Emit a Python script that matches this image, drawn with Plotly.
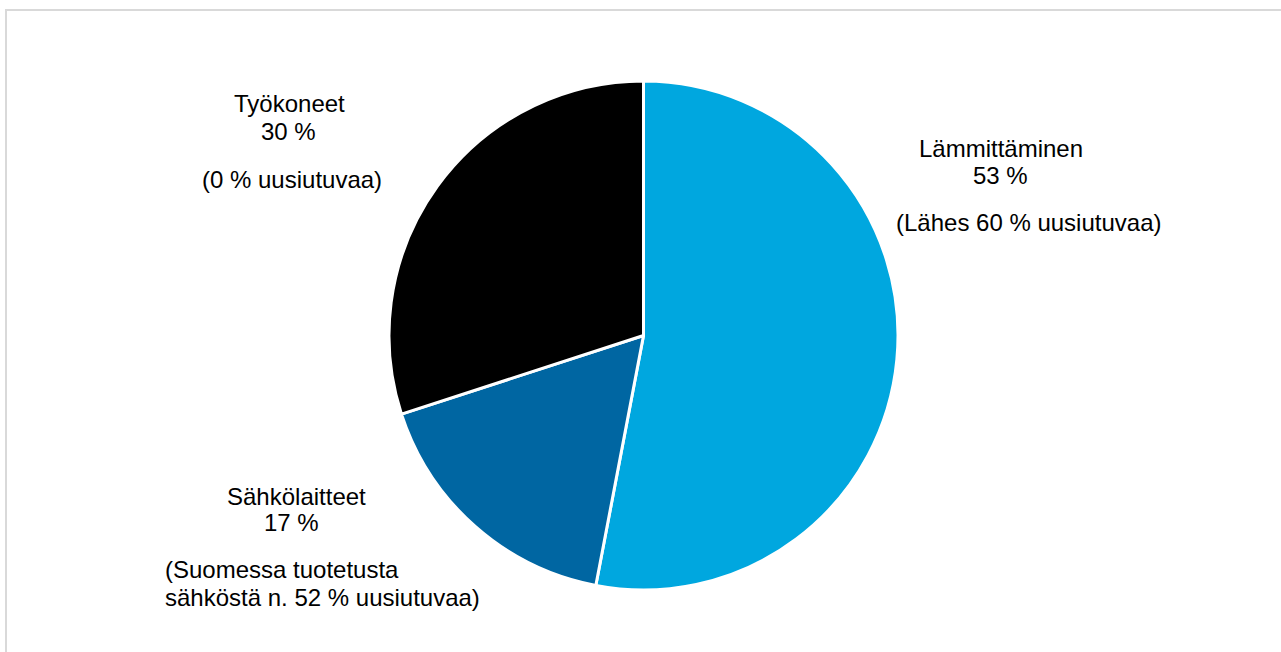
import plotly.graph_objects as go

# Energy use by purpose, share of total
categories = ["Lämmittäminen", "Sähkölaitteet", "Työkoneet"]
shares = [53, 17, 30]
notes = [
    ["(Lähes 60 % uusiutuvaa)"],
    ["(Suomessa tuotetusta", "sähköstä n. 52 % uusiutuvaa)"],
    ["(0 % uusiutuvaa)"],
]
colors = ["#00A7DF", "#0066A2", "#000000"]

W, H = 1281, 652
FONT = "Liberation Sans, Arial, sans-serif"

# pie centre and radius in pixels
cx, cy, r = 643.5, 335.5, 254.5


def px(x):
    return x / W


def py(y):
    return 1 - y / H


fig = go.Figure(
    go.Pie(
        labels=categories,
        values=shares,
        sort=False,
        direction="clockwise",
        rotation=0,
        marker=dict(colors=colors, line=dict(color="#FFFFFF", width=3)),
        textinfo="none",
        hoverinfo="label+percent",
        domain=dict(x=[px(cx - r), px(cx + r)], y=[py(cy + r), py(cy - r)]),
        showlegend=False,
    )
)

# label layout: (name line centre, value line centre, note lines) per category
label_pos = {
    "Lämmittäminen": dict(name=(1001, 148), value=(1000, 175),
                          note=[(1029, 222)], note_anchor="center"),
    "Sähkölaitteet": dict(name=(296, 496), value=(291, 522),
                          note=[(163, 569), (163, 597)], note_anchor="left"),
    "Työkoneet": dict(name=(289, 104), value=(288, 131),
                      note=[(292, 180)], note_anchor="center"),
}

annotations = []
for cat, val, note in zip(categories, shares, notes):
    pos = label_pos[cat]
    lines = [(cat, pos["name"], "center"), (f"{val} %", pos["value"], "center")]
    for txt, p in zip(note, pos["note"]):
        lines.append((txt, p, pos["note_anchor"]))
    for txt, (x, y), anchor in lines:
        annotations.append(dict(
            text=txt, x=px(x), y=py(y), xref="paper", yref="paper",
            xanchor=anchor, yanchor="middle", showarrow=False,
            font=dict(family=FONT, size=24, color="#000000"),
        ))

fig.update_layout(
    width=W, height=H,
    margin=dict(l=0, r=0, t=0, b=0),
    paper_bgcolor="#FFFFFF",
    plot_bgcolor="#FFFFFF",
    annotations=annotations,
    shapes=[dict(
        type="rect", xref="paper", yref="paper",
        x0=px(6), x1=px(W + 10), y0=py(H + 10), y1=py(10),
        line=dict(color="#D9D9D9", width=2),
        fillcolor="rgba(0,0,0,0)", layer="below",
    )],
)

fig.write_html("out.html")
